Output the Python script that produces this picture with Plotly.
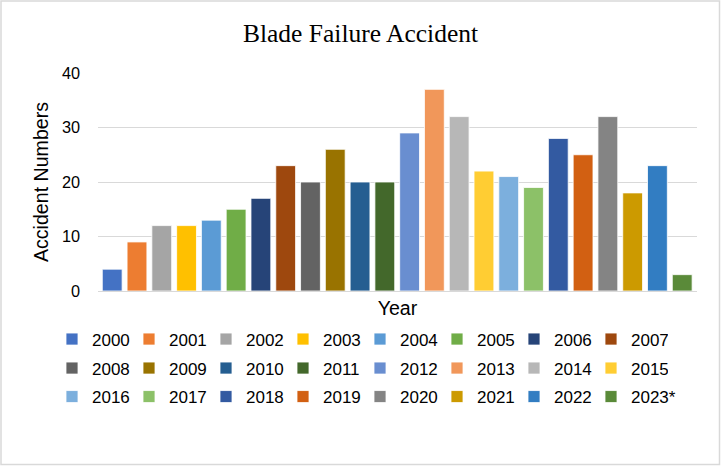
import plotly.graph_objects as go

years = ["2000", "2001", "2002", "2003", "2004", "2005", "2006", "2007",
         "2008", "2009", "2010", "2011", "2012", "2013", "2014", "2015",
         "2016", "2017", "2018", "2019", "2020", "2021", "2022", "2023*"]
accidents = [4, 9, 12, 12, 13, 15, 17, 23,
             20, 26, 20, 20, 29, 37, 32, 22,
             21, 19, 28, 25, 32, 18, 23, 3]
colors = ["#4472C4", "#ED7D31", "#A5A5A5", "#FFC000", "#5B9BD5", "#70AD47", "#264478", "#9E480E",
          "#636363", "#997300", "#255E91", "#43682B", "#698ED0", "#F1975A", "#B7B7B7", "#FFCD33",
          "#7CAFDD", "#8CC168", "#335AA1", "#D26012", "#848484", "#CC9A00", "#327DC2", "#5A8A39"]

W, H = 721, 466
L, R, T, B = 98, 24, 73, 175

pw = W - L - R
ph = H - T - B

def px_x(x):
    return (x - L) / pw

def px_y(y):
    return (H - B - y) / ph

legend_names = ["legend", "legend2", "legend3"]

fig = go.Figure()
for i, (yr, val, col) in enumerate(zip(years, accidents, colors)):
    fig.add_trace(go.Bar(
        x=[yr], y=[val], name=yr,
        marker=dict(color=col, line=dict(color="white", width=0.8)),
        hoverinfo="x+y", legend=legend_names[i // 8],
        legendwidth=(60 if i == len(years) - 1 else None),
    ))

legend_font = dict(family="Liberation Sans, Arial, sans-serif", size=17, color="black")
row_centers = [339.5, 368.5, 397]

def make_legend(yc):
    return dict(
        orientation="h", x=px_x(52), xanchor="left", y=px_y(yc), yanchor="middle",
        entrywidth=32, entrywidthmode="pixels", traceorder="normal",
        font=legend_font, bgcolor="rgba(0,0,0,0)",
    )

fig.update_layout(
    width=W, height=H,
    margin=dict(l=L, r=R, t=T, b=B, pad=0),
    paper_bgcolor="white", plot_bgcolor="white",
    barmode="overlay", bargap=0.2,
    title=dict(text="Blade Failure Accident",
               font=dict(family="Liberation Serif, Times New Roman, serif", size=25.5, color="black"),
               x=0.5, xanchor="center", xref="container",
               y=1 - 33 / H, yanchor="middle", yref="container"),
    xaxis=dict(
        range=[-0.573, 23.597], showticklabels=False, showgrid=False,
        showline=False, zeroline=False, ticks="",
        title=dict(text="Year", standoff=10,
                   font=dict(family="Liberation Sans, Arial, sans-serif", size=19.6, color="black")),
    ),
    yaxis=dict(
        range=[0, 40], dtick=10, showgrid=True, gridcolor="#d9d9d9", gridwidth=1,
        zeroline=True, zerolinecolor="#d9d9d9", zerolinewidth=1,
        showline=False, ticks="", ticklabelstandoff=17,
        tickfont=dict(family="Liberation Sans, Arial, sans-serif", size=16.3, color="black"),
        title=dict(text="Accident Numbers", standoff=8,
                   font=dict(family="Liberation Sans, Arial, sans-serif", size=19.6, color="black")),
    ),
    legend=make_legend(row_centers[0]),
    legend2=make_legend(row_centers[1]),
    legend3=make_legend(row_centers[2]),
    shapes=[dict(type="rect", xref="paper", yref="paper",
                 x0=px_x(1), x1=px_x(719.5), y0=px_y(464.5), y1=px_y(1),
                 line=dict(color="#d9d9d9", width=1.5), fillcolor="rgba(0,0,0,0)", layer="below")],
)

fig.write_html("out.html", config={"displayModeBar": False},
               post_script="document.body.style.margin='0';document.body.style.overflow='hidden';")
